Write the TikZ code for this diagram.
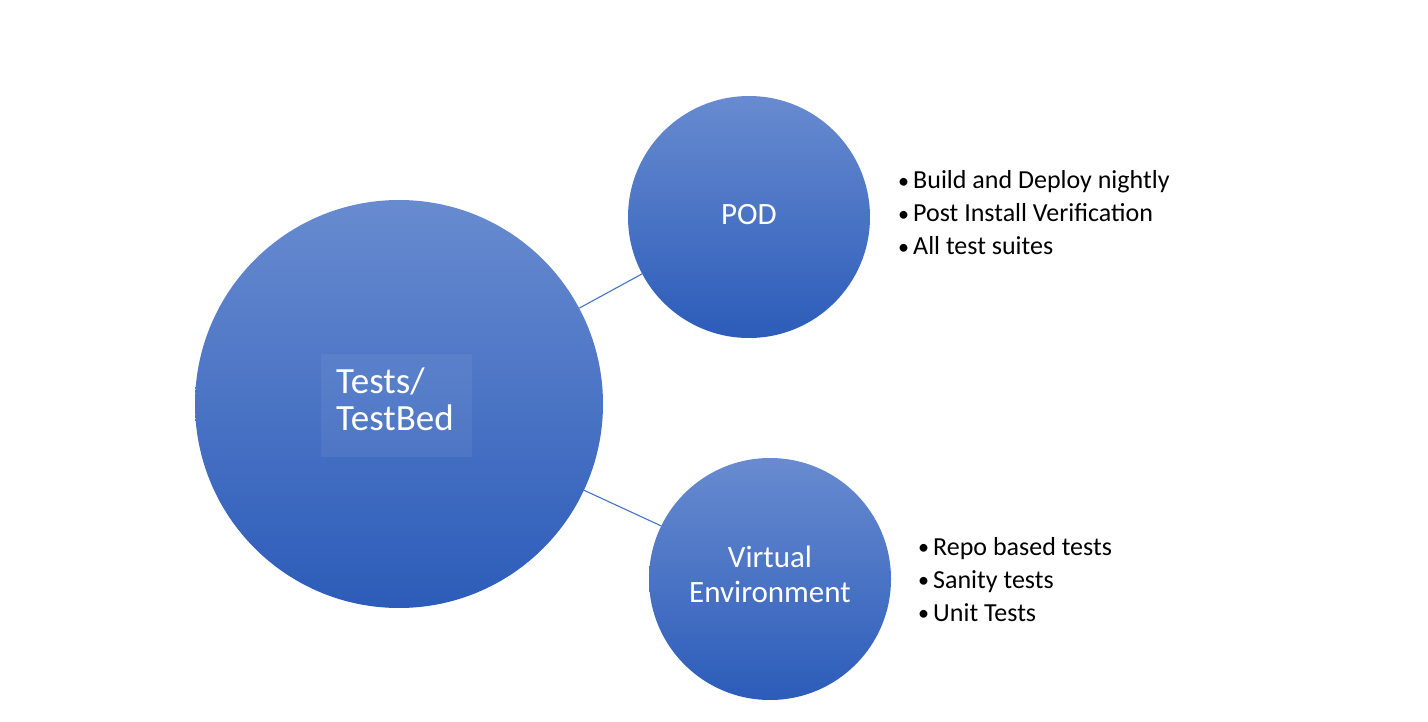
\documentclass[tikz,border=0pt]{standalone}
\usepackage{fontspec}
\setmainfont{Carlito}
\definecolor{topc}{RGB}{104,139,208}
\definecolor{botc}{RGB}{44,92,185}
\definecolor{linec}{RGB}{68,114,196}
\newcommand{\bul}{\makebox[15pt][l]{\raisebox{0.5pt}{\scalebox{0.85}{\textbullet}}}}
\begin{document}
\begin{tikzpicture}[x=1pt,y=-1pt,
  bubble/.style={circle,draw=none,inner sep=0pt,top color=topc,bottom color=botc},
  ctext/.style={text=white,font=\fontsize{31}{35}\selectfont,align=center},
  btext/.style={anchor=base west,inner sep=0pt,text=white,font=\fontsize{37}{40}\selectfont},
  item/.style={anchor=base west,inner sep=0pt,font=\fontsize{26}{31}\selectfont},
  link/.style={draw=linec,line width=1.1pt}]
\useasboundingbox (0,0) rectangle (1428,722);
\node[bubble,minimum size=408pt] (big) at (399,404) {};
\node[bubble,minimum size=242pt] (pod) at (749,217) {};
\node[bubble,minimum size=242pt] (ve) at (770,579) {};
\fill[white,opacity=0.06] (321,354) rectangle (472,457);
\node[btext] (t1) at (336,393) {Tests/};
\node[btext] (t2) at (336,430) {TestBed};
\node[ctext,anchor=base] (podt) at (749,225) {POD};
\node[ctext,anchor=base] (ve1) at (770,567) {Virtual};
\node[ctext,anchor=base] (ve2) at (770,602) {Environment};
\draw[link] (big.28.2) -- (pod.208.3);
\draw[link] (big.-25.4) -- (ve.154.9);
\node[item] (p1) at (898,189) {\bul Build and Deploy nightly};
\node[item] (p2) at (898,222) {\bul Post Install Verification};
\node[item] (p3) at (898,255) {\bul All test suites};
\node[item] (v1) at (918,555) {\bul Repo based tests};
\node[item] (v2) at (918,588) {\bul Sanity tests};
\node[item] (v3) at (918,621) {\bul Unit Tests};
\end{tikzpicture}
\end{document}
